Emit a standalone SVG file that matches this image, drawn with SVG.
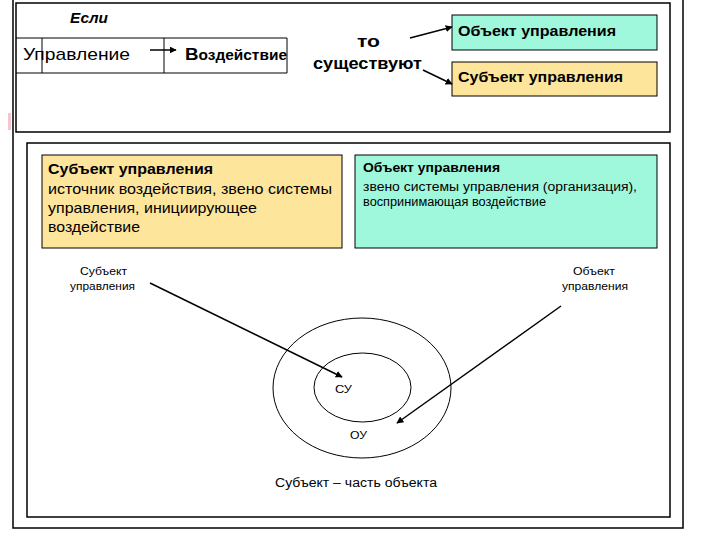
<svg xmlns="http://www.w3.org/2000/svg" width="720" height="540" viewBox="0 0 720 540">
<defs>
<marker id="ah" viewBox="0 0 10 10" refX="9" refY="5" markerWidth="7" markerHeight="7" markerUnits="userSpaceOnUse" orient="auto">
<path d="M0,0 L10,5 L0,10 z" fill="#000"/>
</marker>
<style>
text{font-family:"Liberation Sans",Arial,sans-serif;fill:#000}
.frame{fill:none;stroke:#000;stroke-width:1.5}
.thin{fill:none;stroke:#000;stroke-width:1}
.cyan{fill:#9ff7dc;stroke:#000;stroke-width:1}
.yellow{fill:#fde59c;stroke:#000;stroke-width:1}
.b{font-weight:bold}
.conn{stroke:#000;stroke-width:1.5;fill:none;marker-end:url(#ah)}
.small{font-size:11.5px}
</style>
</defs>
<rect x="0" y="0" width="720" height="540" fill="#fff"/>
<rect x="8" y="113" width="3" height="17" fill="#f5c6cf"/>
<g id="frames">
<rect class="frame" x="13" y="-3" width="670" height="531"/>
<rect class="frame" x="16" y="3" width="654" height="129"/>
<rect class="frame" x="27" y="143" width="643" height="374"/>
</g>
<g id="esli"><text x="70" y="23" font-size="14" font-style="italic" class="b" textLength="38" lengthAdjust="spacingAndGlyphs">Если</text></g>
<g id="table">
<path class="thin" d="M16,38 H287 M16,73 H287 M42,38 V73 M164,38 V73 M287,38 V73"/>
</g>
<g id="upravlenie"><text x="23" y="60" font-size="17" textLength="107" lengthAdjust="spacingAndGlyphs">Управление</text></g>
<g id="vozdeystvie"><text x="185" y="60" font-size="14" class="b" textLength="102" lengthAdjust="spacingAndGlyphs"><tspan font-size="17">В</tspan>оздействие</text></g>
<g id="to"><text x="357" y="47" font-size="17" class="b" textLength="23" lengthAdjust="spacingAndGlyphs">то</text><text x="313" y="69" font-size="17" class="b" textLength="109" lengthAdjust="spacingAndGlyphs">существуют</text></g>
<g id="obj-top"><rect class="cyan" x="452" y="15" width="205" height="35"/><text x="458" y="36" font-size="15" class="b" textLength="158" lengthAdjust="spacingAndGlyphs">Объект управления</text></g>
<g id="subj-top"><rect class="yellow" x="452" y="62" width="205" height="34"/><text x="458" y="82" font-size="15" class="b" textLength="165" lengthAdjust="spacingAndGlyphs">Субъект управления</text></g>
<g id="subj-box"><rect class="yellow" x="42" y="155" width="300" height="93"/>
<text x="48" y="174" font-size="15" class="b" textLength="165" lengthAdjust="spacingAndGlyphs">Субъект управления</text>
<text x="48" y="194" font-size="15" textLength="284" lengthAdjust="spacingAndGlyphs">источник воздействия, звено системы</text>
<text x="48" y="213" font-size="15" textLength="209" lengthAdjust="spacingAndGlyphs">управления, инициирующее</text>
<text x="48" y="232" font-size="15" textLength="92" lengthAdjust="spacingAndGlyphs">воздействие</text></g>
<g id="obj-box"><rect class="cyan" x="355" y="155" width="302" height="93"/>
<text x="363" y="172" font-size="13" class="b" textLength="137" lengthAdjust="spacingAndGlyphs">Объект управления</text>
<text x="363" y="191" font-size="12.5" textLength="274" lengthAdjust="spacingAndGlyphs">звено системы управления (организация),</text>
<text x="363" y="206" font-size="12.5" textLength="183" lengthAdjust="spacingAndGlyphs">воспринимающая воздействие</text></g>
<g id="subj-label"><text class="small" x="80" y="275" textLength="47" lengthAdjust="spacingAndGlyphs">Субъект</text><text class="small" x="70" y="290" textLength="65" lengthAdjust="spacingAndGlyphs">управления</text></g>
<g id="obj-label"><text class="small" x="573" y="275" textLength="42" lengthAdjust="spacingAndGlyphs">Объект</text><text class="small" x="562" y="290" textLength="66" lengthAdjust="spacingAndGlyphs">управления</text></g>
<g id="ellipses">
<ellipse class="thin" cx="362" cy="388" rx="89" ry="70"/>
<ellipse class="thin" cx="362.5" cy="387.5" rx="48.5" ry="34.5"/>
<text class="small" x="335" y="393" textLength="17" lengthAdjust="spacingAndGlyphs">СУ</text>
<text class="small" x="350" y="439" textLength="17" lengthAdjust="spacingAndGlyphs">ОУ</text>
<text x="275" y="487" font-size="12.5" textLength="162" lengthAdjust="spacingAndGlyphs">Субъект – часть объекта</text>
</g>
<g id="connectors">
<line class="conn" x1="150" y1="50" x2="176" y2="50"/>
<line class="conn" x1="410" y1="38" x2="452" y2="27"/>
<line class="conn" x1="423" y1="70" x2="452" y2="84"/>
<line class="conn" x1="150" y1="283" x2="342" y2="377"/>
<line class="conn" x1="561" y1="306" x2="397" y2="423"/>
</g>
</svg>
